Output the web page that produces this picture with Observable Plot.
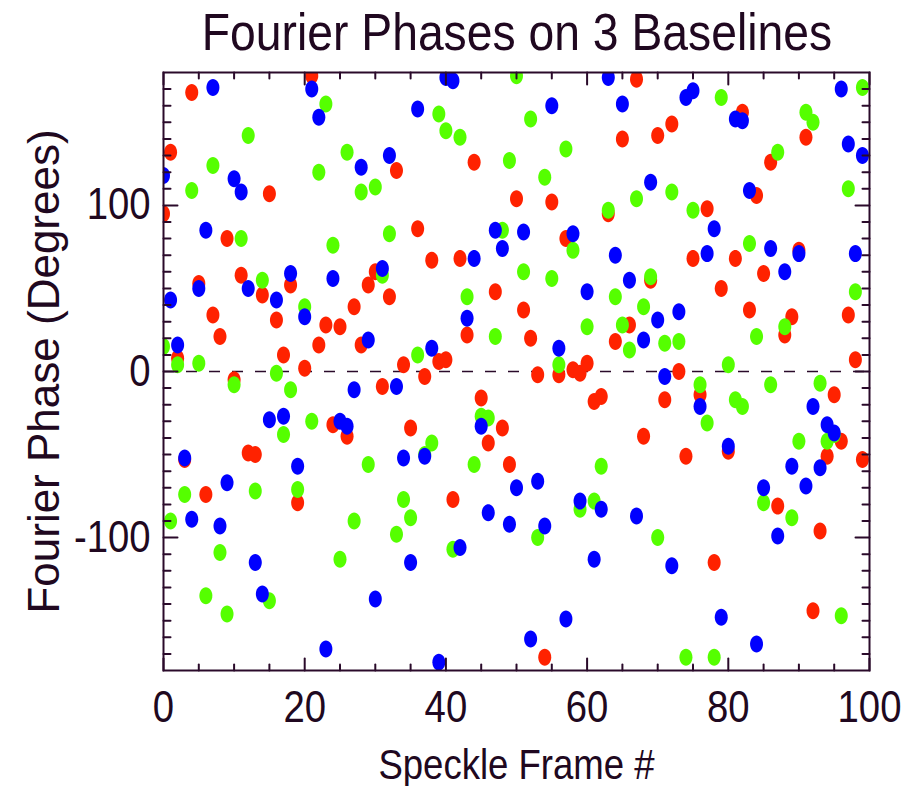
<!DOCTYPE html>
<html><head><meta charset="utf-8">
<script src="https://cdn.jsdelivr.net/npm/d3@7"></script>
<script src="https://cdn.jsdelivr.net/npm/@observablehq/plot@0.6"></script>
<style>
body{margin:0;background:#fff;}
#wrap{width:917px;height:786px;position:relative;overflow:hidden;background:#fff;}
#title{position:absolute;left:163px;width:706px;top:6px;text-align:center;font-size:52px;font-family:"Liberation Sans","Arial",sans-serif;color:#200820;line-height:1;white-space:nowrap;transform:scaleX(0.89);transform-origin:center;}
#chart{position:absolute;left:0;top:60px;}
</style></head><body>
<div id="wrap"><div id="title">Fourier Phases on 3 Baselines</div><div id="chart"></div></div>
<script>
// Fourier phase (degrees) per speckle frame 0..99, one array per baseline
const redPhase = [95,132,8,-53,168,53,-74,34,21,80,-5,58,-49,-50,46,107,31,10,52,-79,
  2,178,16,28,-32,27,-39,39,16,52,60,-9,45,121,4,-34,86,-3,67,6,
  7,-77,68,22,126,-16,-43,48,-34,-56,104,37,20,-2,-172,102,-2,80,1,-1,
  5,-18,-15,95,18,140,28,176,-39,55,142,-17,149,0,-51,68,-14,98,-115,50,
  -48,68,156,37,106,59,126,-81,22,33,73,141,-144,-96,-51,-14,-42,34,7,-53];
const greenPhase = [15,-90,4,-74,109,5,-135,124,-109,-146,-8,80,142,-72,55,-138,-1,-38,-11,-71,
  39,-30,120,161,76,-113,132,-90,108,-56,111,58,83,-98,-77,-88,10,-50,-43,155,
  145,-107,141,45,-56,-27,-28,21,85,127,178,60,152,-100,117,56,4,134,73,-83,
  27,-78,-57,97,45,28,13,104,39,57,-100,17,108,18,-172,97,-8,-31,-172,165,
  4,-17,-21,77,21,-79,-8,132,27,-88,-42,156,150,-7,-42,-38,-147,110,48,171];
const bluePhase = [118,43,16,-52,-89,50,85,171,-93,-67,116,108,50,-115,-134,-29,43,-27,59,-57,
  33,170,153,-167,56,-30,-33,-11,123,19,-137,62,130,-9,-52,-115,158,-51,14,-175,
  177,175,-106,32,68,-33,-85,85,74,-92,-70,84,-161,-66,-93,160,14,-149,83,-78,
  48,-113,-83,177,70,161,55,-87,19,114,31,-3,-117,36,165,169,-21,71,86,-148,
  -45,152,151,109,-164,-70,74,-99,60,-57,71,-69,-21,-58,-32,-37,170,137,71,130];

const seriesNames = ["red", "green", "blue"];
const seriesColors = ["#ff2200", "#55ff00", "#0000ff"];
const seriesValues = [redPhase, greenPhase, bluePhase];

const xTickLabels = [0, 20, 40, 60, 80, 100];
const xMinorTicks = [5,10,15,25,30,35,45,50,55,65,70,75,85,90,95];
const yTickLabels = [-100, 0, 100];
const yMinorTicks = [-170,-160,-150,-140,-130,-120,-110,-90,-80,-70,-60,-50,-40,-30,-20,-10,
  10,20,30,40,50,60,70,80,90,110,120,130,140,150,160,170];

const xTitle = "Speckle Frame #";
const yTitle = "Fourier Phase (Degrees)";

const axisColor = "#2a0a2a";
const textColor = "#200820";
const font = '"Liberation Sans","Arial",sans-serif';

const ellipse = {
  draw(ctx) {
    const rx = 6.5, ry = 8.5, k = 0.5523;
    ctx.moveTo(rx, 0);
    ctx.bezierCurveTo(rx, ry * k, rx * k, ry, 0, ry);
    ctx.bezierCurveTo(-rx * k, ry, -rx, ry * k, -rx, 0);
    ctx.bezierCurveTo(-rx, -ry * k, -rx * k, -ry, 0, -ry);
    ctx.bezierCurveTo(rx * k, -ry, rx, -ry * k, rx, 0);
    ctx.closePath();
  }
};
const tickShape = {draw(ctx, l) { ctx.moveTo(0, 0); ctx.lineTo(0, -l); }};

const dotMarks = seriesValues.map((vals, s) =>
  Plot.dot(vals.map((v, i) => ({frame: i, phase: v, series: seriesNames[s]})), {
    x: "frame", y: "phase", fill: seriesColors[s], stroke: "none", symbol: ellipse, clip: true
  })
);

function ticks(data, side, len) {
  const opts = {length: len, anchor: "start", shape: tickShape, stroke: axisColor, strokeWidth: 2};
  if (side === "bottom") return Plot.vector(data, {...opts, x: d => d, frameAnchor: "bottom", rotate: 0});
  if (side === "top") return Plot.vector(data, {...opts, x: d => d, frameAnchor: "top", rotate: 180});
  if (side === "left") return Plot.vector(data, {...opts, y: d => d, frameAnchor: "left", rotate: 90});
  return Plot.vector(data, {...opts, y: d => d, frameAnchor: "right", rotate: -90});
}

const chart = Plot.plot({
  width: 917,
  height: 726,
  marginTop: 12,
  marginBottom: 116,
  marginLeft: 163,
  marginRight: 48,
  style: {fontFamily: font, background: "#fff", color: textColor, overflow: "visible"},
  x: {domain: [0, 100], axis: null},
  y: {domain: [-180, 180], axis: null},
  marks: [
    Plot.ruleY([0], {stroke: axisColor, strokeWidth: 1.5, strokeDasharray: "11,12"}),
    ...dotMarks,
    ticks(xTickLabels, "bottom", 12), ticks(xTickLabels, "top", 12),
    ticks(xMinorTicks, "bottom", 6), ticks(xMinorTicks, "top", 6),
    ticks(yTickLabels, "left", 14), ticks(yTickLabels, "right", 14),
    ticks(yMinorTicks, "left", 7), ticks(yMinorTicks, "right", 7),
    Plot.frame({stroke: axisColor, strokeWidth: 2}),
    Plot.axisX(xTickLabels, {anchor: "bottom", tickSize: 0, tickPadding: 20, fontSize: 44, fill: textColor, label: null, tickFormat: d => String(d)}),
    Plot.axisY(yTickLabels, {anchor: "left", tickSize: 0, tickPadding: 13, fontSize: 44, fill: textColor, label: null, tickFormat: d => String(d)}),
    Plot.text([xTitle], {frameAnchor: "bottom", dy: 108, lineAnchor: "bottom", textAnchor: "middle", fontSize: 42, fill: textColor}),
    Plot.text([yTitle], {frameAnchor: "left", dx: -105, rotate: -90, lineAnchor: "bottom", textAnchor: "middle", fontSize: 44, fill: textColor})
  ]
});
// condense horizontal text to mimic the narrow face of the original
d3.select(chart).selectAll("text").each(function() {
  if (this.textContent === yTitle) return;
  const t = this.getAttribute("transform") || "";
  this.setAttribute("transform", t + " scale(0.87,1)");
});
document.getElementById("chart").appendChild(chart);
</script>
</body></html>
